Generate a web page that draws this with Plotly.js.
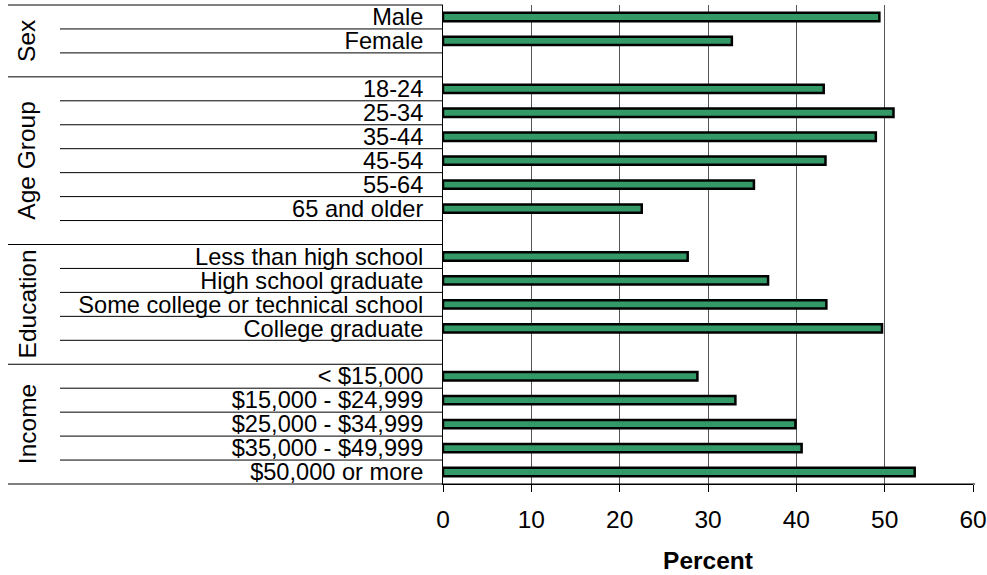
<!DOCTYPE html>
<html>
<head>
<meta charset="utf-8">
<script src="https://cdn.plot.ly/plotly-3.0.1.min.js"></script>
<style>html,body{margin:0;padding:0;background:#fff;}#chart{width:987px;height:575px;}</style>
</head>
<body>
<div id="chart"></div>
<script>
// ---- data ----
var groupNames = ['Sex', 'Age Group', 'Education', 'Income'];
var sexCats = ['Male', 'Female'];
var sexVals = [49.4, 32.7];
var ageCats = ['18-24', '25-34', '35-44', '45-54', '55-64', '65 and older'];
var ageVals = [43.1, 51.0, 49.0, 43.3, 35.2, 22.5];
var eduCats = ['Less than high school', 'High school graduate', 'Some college or technical school', 'College graduate'];
var eduVals = [27.7, 36.8, 43.4, 49.7];
var incCats = ['< $15,000', '$15,000 - $24,999', '$25,000 - $34,999', '$35,000 - $49,999', '$50,000 or more'];
var incVals = [28.8, 33.1, 39.9, 40.6, 53.4];
var xTicks = [0, 10, 20, 30, 40, 50, 60];

// ---- build slots (a blank slot after each group except the last) ----
var groups = [
  {name: groupNames[0], cats: sexCats, vals: sexVals},
  {name: groupNames[1], cats: ageCats, vals: ageVals},
  {name: groupNames[2], cats: eduCats, vals: eduVals},
  {name: groupNames[3], cats: incCats, vals: incVals}
];
var ys = [], xs = [], labels = [], groupSpans = [];
var slot = 0;
groups.forEach(function (g, gi) {
  var start = slot;
  g.cats.forEach(function (c, i) {
    ys.push(slot); xs.push(g.vals[i]); labels.push(c); slot++;
  });
  if (gi < groups.length - 1) slot++; // blank spacer row
  groupSpans.push({name: g.name, start: start, end: slot});
});
var nSlots = slot;

// layout geometry
var W = 987, H = 575;
var margin = {l: 443, r: 14, t: 5, b: 91};
var plotW = W - margin.l - margin.r;
var rowStartX = (60 - margin.l) / plotW;
var groupStartX = (8 - margin.l) / plotW;
var groupLabelX = (27 - margin.l) / plotW;
var FS = 24.5;
var LFS = 23.6;
var FONT = 'Liberation Sans, Arial, sans-serif';

function paperY(k) { return 1 - k / nSlots; }

var groupBounds = {};
groupSpans.forEach(function (s) { groupBounds[s.start] = true; groupBounds[s.end] = true; });

var shapes = [];
for (var k = 0; k <= nSlots; k++) {
  var isGroup = !!groupBounds[k];
  shapes.push({
    type: 'line', xref: 'paper', yref: 'paper',
    x0: isGroup ? groupStartX : rowStartX, x1: (k === nSlots ? 1.004 : 0),
    y0: paperY(k), y1: paperY(k),
    line: {color: '#000', width: 1}
  });
}

var annotations = groupSpans.map(function (s) {
  return {
    xref: 'paper', yref: 'paper',
    x: groupLabelX, y: paperY((s.start + s.end) / 2),
    text: s.name, textangle: -90, showarrow: false,
    xanchor: 'center', yanchor: 'middle',
    font: {family: FONT, size: FS, color: '#000'}
  };
});

var trace = {
  type: 'bar', orientation: 'h',
  x: xs, y: ys, width: 0.35,
  marker: {color: '#339966', line: {color: '#000', width: 2.5}},
  hoverinfo: 'x'
};

var layout = {
  width: W, height: H,
  margin: margin,
  paper_bgcolor: '#fff', plot_bgcolor: '#fff',
  font: {family: FONT, size: FS, color: '#000'},
  showlegend: false,
  bargap: 0,
  xaxis: {
    range: [0, 60], tickvals: xTicks, ticktext: xTicks.map(String),
    showgrid: true, gridcolor: '#555', gridwidth: 1,
    zeroline: false, showline: true, linecolor: '#000', linewidth: 1,
    ticks: 'outside', ticklen: 7, tickcolor: '#000', tickwidth: 1,
    ticklabelstandoff: 7,
    tickfont: {family: FONT, size: FS, color: '#000'},
    title: {text: '<b>Percent</b>', font: {family: FONT, size: FS, color: '#000'}, standoff: 19},
    fixedrange: true
  },
  yaxis: {
    range: [nSlots - 0.5, -0.5],
    tickvals: ys, ticktext: labels,
    showgrid: false, zeroline: false,
    showline: true, linecolor: '#000', linewidth: 1,
    ticks: '', ticklabelstandoff: 14,
    tickfont: {family: FONT, size: LFS, color: '#000'},
    fixedrange: true
  },
  shapes: shapes,
  annotations: annotations
};

Plotly.newPlot('chart', [trace], layout, {displayModeBar: false, staticPlot: true});
</script>
</body>
</html>
